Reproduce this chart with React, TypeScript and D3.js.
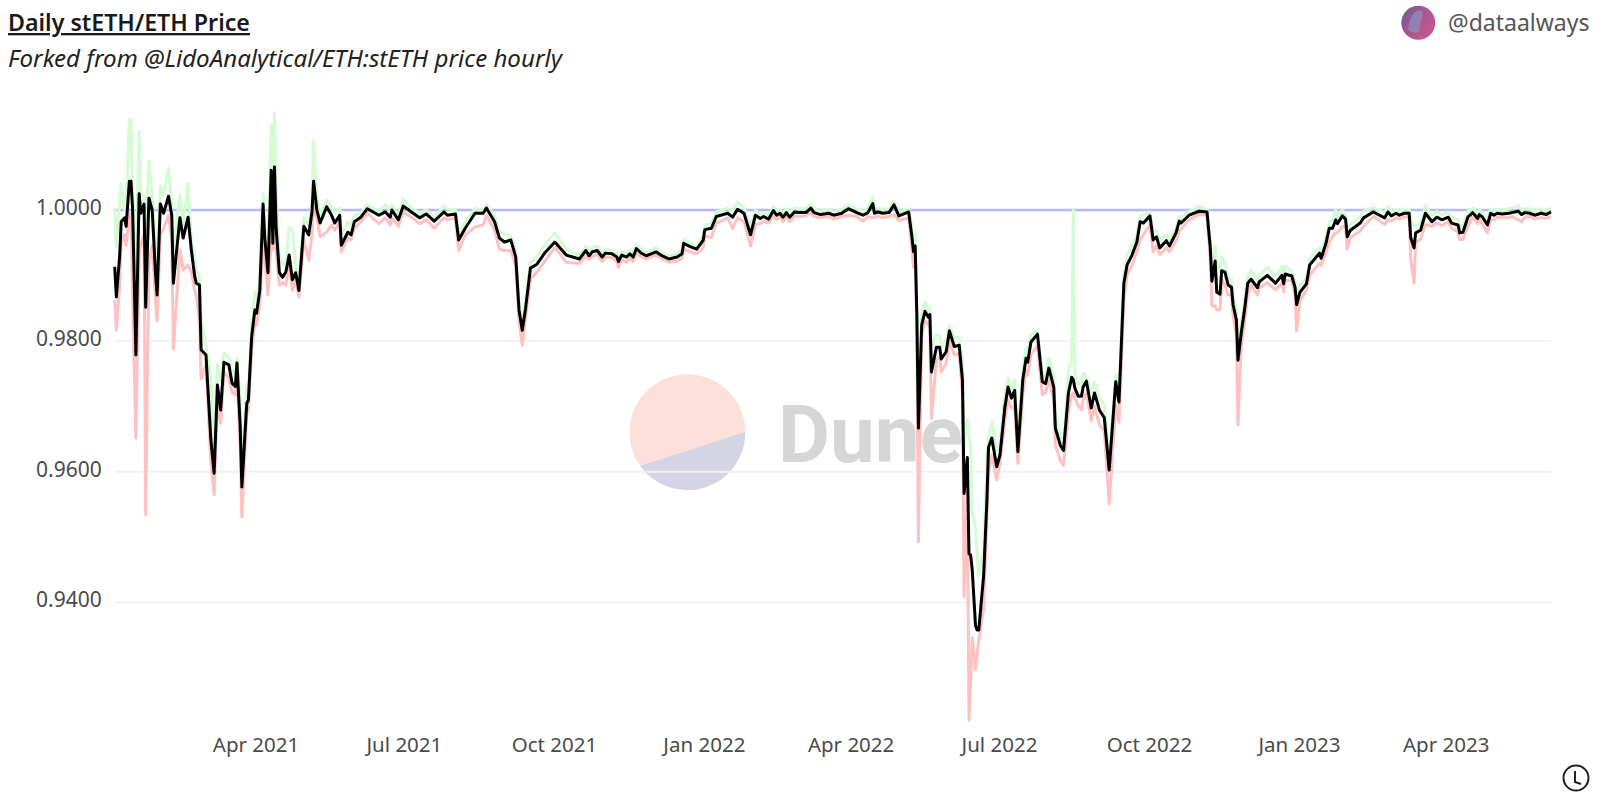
import React, { useRef, useEffect } from 'react';
import * as d3 from 'd3';

const WIDTH = 1600;
const HEIGHT = 811;

const startDate = new Date(Date.UTC(2021, 0, 4));
const xTicks = ['2021-04-01', '2021-07-01', '2021-10-01', '2022-01-01', '2022-04-01', '2022-07-01', '2022-10-01', '2023-01-01', '2023-04-01'];
const yTicks = [0.94, 0.96, 0.98, 1];
const pegValue = 1;
const lastDay = 881;

// days since startDate, same length as the three price arrays
const days = [
	0, 1, 3, 4, 6, 7, 9, 10, 11, 13,
	15, 16, 18, 19, 21, 23, 25, 26, 28, 30,
	33, 35, 36, 40, 42, 45, 47, 49, 50, 52,
	53, 56, 59, 61, 63, 65, 67, 70, 72, 74,
	75, 77, 78, 81, 82, 84, 86, 87, 89, 91,
	92, 94, 96, 97, 98, 99, 101, 103, 105, 107,
	109, 111, 113, 116, 119, 121, 122, 124, 126, 130,
	133, 135, 138, 139, 143, 145, 147, 151, 155, 162,
	166, 169, 170, 174, 177, 182, 187, 191, 196, 202,
	204, 209, 211, 215, 221, 226, 228, 233, 236, 239,
	243, 246, 248, 250, 252, 255, 259, 264, 270, 277,
	285, 289, 291, 293, 296, 299, 301, 305, 308, 309, 311, 314, 316, 318, 320, 323,
	326, 329, 332, 335, 340, 345, 348, 349, 353, 357, 361, 362, 366, 369, 376,
	379, 382, 386, 390, 393, 396, 398, 401, 404, 406, 408, 410, 412, 414, 417, 420, 424,
	427, 429, 433, 438, 441, 446, 450, 455, 459, 462, 465, 466, 468, 471, 475, 478, 481,
	487, 489, 490, 491, 492, 493, 495, 497, 499, 500,
	501, 504, 506, 507, 510, 512, 515, 518, 520, 521,
	523, 524, 525, 526, 528, 529, 530, 533, 535, 536,
	538, 541, 543, 546, 548, 550, 552, 554, 557, 559,
	560, 562, 566, 569, 571, 573, 576, 577, 580, 582,
	585, 587, 588, 589, 591, 593, 594, 596, 599, 601,
	604, 607, 610, 614, 616, 619, 621, 624, 627, 629,
	631, 635, 637, 639, 641, 645, 647, 651, 653, 654,
	659, 665, 670, 672, 673, 675, 676, 678, 679, 681,
	683, 685, 686, 688, 689, 691, 693, 695, 697, 701,
	702, 707, 712, 716, 717, 718, 722, 724, 725, 727,
	731, 733, 736, 739, 740, 743, 745, 747, 749, 750,
	753, 755, 756, 758, 764, 766, 772, 779, 781, 783, 786, 788, 791,
	794, 795, 797, 798, 801, 804, 808, 811, 814, 818,
	820, 824, 825, 827,
	830, 833, 836, 837, 839, 842, 844, 846, 848, 851,
	855, 857, 861, 863, 865, 868, 871, 875, 878, 881,
];

const avgPrice = [
	.9913, .9867, .9928, .9982, .9988, .9975, 1.0044, 1.0044, 1.0000, .9778,
	1.0025, .9995, 1.0009, .9851, 1.0018, 1.0000, .9904, .9870, 1.0009, .9995,
	1.0021, .9992, .9888, .9988, .9957, .9989, .9939, .9900, .9888, .9885,
	.9786, .9778, .9648, .9597, .9732, .9694, .9767, .9763, .9735, .9730,
	.9766, .9668, .9576, .9704, .9709, .9806, .9847, .9842, .9877, 1.0009,
	.9959, .9904, 1.0061, .9949, 1.0066, .9974, .9904, .9897, .9905, .9931,
	.9893, .9904, .9877, .9975, .9962, .9997, 1.0044, 1.0000, .9980, 1.0005,
	.9992, .9980, .9992, .9946, .9966, .9962, .9982, .9989, 1.0002, .9992,
	.9997, .9989, 1.0000, .9985, 1.0006, .9997, .9988, .9994, .9983, .9997,
	.9992, .9994, .9954, .9972, .9995, .9995, 1.0003, .9982, .9957, .9951,
	.9954, .9928, .9847, .9816, .9849, .9911, .9917, .9935, .9951, .9931,
	.9925, .9938, .9930, .9936, .9938, .9928, .9934, .9933, .9928, .9921, .9931, .9928, .9933, .9928, .9941, .9934,
	.9930, .9933, .9936, .9931, .9925, .9928, .9933, .9949, .9944, .9940, .9954, .9970, .9972, .9990, .9995,
	.9989, 1.0001, .9995, .9962, .9992, .9987, .9990, .9986, .9999, .9992, .9995, .9989, .9996, .9989, .9997, .9996, .9996,
	1.0003, .9996, .9993, .9995, .9992, .9995, 1.0002, .9996, .9992, .9996, 1.0010, .9995, .9997, .9995, .9996, 1.0008, .9991,
	.9997, .9959, .9936, .9945, .9842, .9666, .9824, .9845, .9836, .9840,
	.9752, .9790, .9790, .9772, .9783, .9815, .9791, .9793, .9740, .9566,
	.9621, .9474, .9472, .9449, .9364, .9357, .9357, .9441, .9556, .9637,
	.9651, .9607, .9625, .9698, .9729, .9712, .9724, .9630, .9740, .9773,
	.9767, .9798, .9810, .9737, .9734, .9758, .9729, .9666, .9640, .9632,
	.9720, .9744, .9740, .9727, .9715, .9715, .9729, .9738, .9697, .9720,
	.9694, .9682, .9602, .9737, .9706, .9888, .9916, .9931, .9951, .9982,
	.9980, .9991, .9954, .9959, .9942, .9953, .9945, .9965, .9983, .9980,
	.9992, .9998, .9997, .9943, .9891, .9922, .9874, .9871, .9907, .9905,
	.9885, .9882, .9855, .9832, .9770, .9812, .9847, .9888, .9894, .9881,
	.9890, .9900, .9888, .9900, .9887, .9902, .9899, .9882, .9855, .9874,
	.9887, .9916, .9925, .9934, .9926, .9949, .9972, .9972, .9985, .9979,
	.9991, .9986, .9959, .9969, .9980, .9988, .9997, .9988, .9997, .9991, .9995, .9992, .9995,
	.9995, .9957, .9942, .9965, .9969, .9995, .9982, .9989, .9985, .9989,
	.9980, .9977, .9965, .9966,
	.9989, .9996, .9987, .9993, .9989, .9977, .9995, .9992, .9995, .9994,
	.9995, .9996, .9998, .9993, .9996, .9995, .9992, .9995, .9993, .9997,
];

const lowPrice = [
	.9862, .9816, .9883, .9949, .9962, .9946, .9995, .9995, .9862, .9651,
	.9939, .9946, .9962, .9533, .9923, .9946, .9862, .9830, .9962, .9972,
	.9992, .9954, .9787, .9939, .9908, .9916, .9905, .9877, .9870, .9832,
	.9741, .9763, .9613, .9564, .9709, .9674, .9752, .9743, .9721, .9717,
	.9752, .9632, .9530, .9686, .9694, .9786, .9829, .9824, .9855, .9954,
	.9931, .9870, .9954, .9939, .9962, .9939, .9885, .9889, .9885, .9916,
	.9877, .9893, .9867, .9954, .9923, .9962, 1.0008, .9988, .9959, .9966,
	.9977, .9969, .9982, .9936, .9957, .9954, .9972, .9982, .9995, .9979,
	.9988, .9977, .9988, .9975, .9997, .9989, .9979, .9985, .9972, .9988,
	.9985, .9988, .9938, .9962, .9974, .9977, .9992, .9969, .9940, .9938,
	.9938, .9915, .9832, .9793, .9835, .9895, .9905, .9922, .9943, .9920,
	.9918, .9930, .9924, .9929, .9932, .9921, .9928, .9927, .9921, .9912, .9924, .9920, .9927, .9921, .9933, .9928,
	.9925, .9928, .9931, .9926, .9920, .9922, .9926, .9940, .9936, .9933, .9942, .9960, .9958, .9980, .9988,
	.9972, .9988, .9982, .9945, .9978, .9979, .9983, .9980, .9990, .9985, .9990, .9982, .9990, .9982, .9990, .9990, .9991,
	.9996, .9990, .9988, .9990, .9986, .9990, .9992, .9990, .9983, .9990, .9988, .9988, .9991, .9988, .9990, .9993, .9984,
	.9988, .9942, .9912, .9920, .9820, .9492, .9810, .9830, .9825, .9825,
	.9681, .9770, .9775, .9752, .9765, .9800, .9778, .9780, .9718, .9408,
	.9570, .9219, .9280, .9345, .9296, .9320, .9340, .9392, .9530, .9600,
	.9625, .9587, .9612, .9678, .9709, .9697, .9701, .9612, .9717, .9755,
	.9747, .9778, .9793, .9717, .9721, .9740, .9709, .9640, .9617, .9609,
	.9691, .9717, .9720, .9712, .9701, .9694, .9710, .9720, .9678, .9700,
	.9671, .9663, .9550, .9701, .9675, .9862, .9900, .9916, .9936, .9954,
	.9962, .9977, .9936, .9946, .9931, .9942, .9936, .9953, .9968, .9970,
	.9985, .9993, .9992, .9925, .9853, .9853, .9847, .9847, .9893, .9885,
	.9870, .9870, .9839, .9809, .9671, .9793, .9828, .9870, .9885, .9870,
	.9880, .9889, .9878, .9888, .9875, .9892, .9892, .9870, .9815, .9860,
	.9878, .9900, .9910, .9918, .9915, .9935, .9950, .9960, .9965, .9965,
	.9975, .9975, .9940, .9958, .9968, .9975, .9990, .9978, .9985, .9983, .9988, .9986, .9989,
	.9990, .9923, .9888, .9950, .9955, .9978, .9975, .9980, .9976, .9982,
	.9972, .9966, .9955, .9955,
	.9975, .9990, .9979, .9986, .9978, .9965, .9985, .9985, .9989, .9988,
	.9988, .9990, .9985, .9982, .9989, .9990, .9986, .9988, .9987, .9990,
];

const highPrice = [
	1.0003, .9944, 1.0015, 1.0041, 1.0000, 1.0008, 1.0138, 1.0138, 1.0031, .9908,
	1.0121, 1.0023, 1.0021, .9969, 1.0075, 1.0023, .9954, .9911, 1.0037, 1.0023,
	1.0064, 1.0008, .9939, 1.0023, .9977, 1.0041, .9954, .9931, .9908, .9900,
	.9832, .9793, .9745, .9632, .9763, .9740, .9781, .9774, .9755, .9747,
	.9774, .9709, .9609, .9732, .9724, .9824, .9874, .9862, .9893, 1.0026,
	.9977, .9931, 1.0129, 1.0015, 1.0149, 1.0031, .9931, .9916, .9920, .9974,
	.9969, .9916, .9889, .9988, .9977, 1.0008, 1.0106, 1.0023, .9992, 1.0015,
	1.0003, .9997, 1.0003, .9962, .9982, .9977, .9992, .9995, 1.0008, .9998,
	1.0008, .9997, 1.0008, .9992, 1.0017, 1.0003, .9995, 1.0000, .9989, 1.0006,
	1.0002, 1.0000, .9962, .9982, 1.0002, 1.0000, 1.0008, .9991, .9966, .9963,
	.9960, .9938, .9860, .9826, .9860, .9920, .9928, .9948, .9965, .9940,
	.9930, .9945, .9936, .9943, .9945, .9933, .9940, .9938, .9933, .9927, .9936, .9934, .9939, .9934, .9947, .9941,
	.9935, .9938, .9943, .9936, .9930, .9933, .9939, .9955, .9950, .9945, .9961, .9977, .9979, .9997, 1.0003,
	.9998, 1.0012, 1.0003, .9975, 1.0000, .9993, .9996, .9992, 1.0005, .9998, 1.0001, .9996, 1.0002, .9996, 1.0003, 1.0002, 1.0002,
	1.0009, 1.0002, .9998, 1.0001, .9998, 1.0001, 1.0008, 1.0002, .9998, 1.0002, 1.0021, 1.0002, 1.0003, 1.0001, 1.0002, 1.0014, .9997,
	1.0002, .9975, .9950, .9965, .9860, .9720, .9842, .9860, .9850, .9850,
	.9790, .9809, .9808, .9790, .9800, .9824, .9805, .9805, .9770, .9640,
	.9680, .9655, .9640, .9540, .9510, .9470, .9440, .9480, .9620, .9650,
	.9676, .9632, .9640, .9717, .9743, .9727, .9740, .9648, .9755, .9789,
	.9783, .9809, .9816, .9747, .9743, .9773, .9747, .9686, .9655, .9640,
	.9755, .9770, 1.0000, .9750, .9732, .9737, .9750, .9747, .9721, .9737,
	.9712, .9701, .9614, .9747, .9717, .9900, .9931, .9946, .9962, .9992,
	.9992, .9997, .9966, .9969, .9954, .9962, .9953, .9973, .9990, .9988,
	.9998, 1.0005, 1.0001, .9955, .9916, .9945, .9920, .9908, .9927, .9920,
	.9896, .9893, .9870, .9847, .9793, .9828, .9862, .9900, .9908, .9893,
	.9900, .9912, .9897, .9914, .9897, .9914, .9906, .9890, .9870, .9885,
	.9895, .9925, .9936, .9942, .9935, .9960, .9982, .9985, 1.0000, .9990,
	1.0000, .9992, .9970, .9978, .9990, .9998, 1.0004, .9996, 1.0006, .9997, 1.0001, .9998, 1.0001,
	1.0002, .9985, .9975, .9975, .9980, 1.0008, .9990, .9998, .9992, .9997,
	.9988, .9985, .9972, .9975,
	.9998, 1.0003, .9994, 1.0000, .9996, .9985, 1.0002, .9998, 1.0001, 1.0000,
	1.0002, 1.0003, 1.0006, 1.0000, 1.0002, 1.0002, .9998, 1.0002, .9999, 1.0003,
];

const dayToDate = (d: number) => d3.utcDay.offset(startDate, d);

const App: React.FC = () => {
	const chartRef = useRef<SVGGElement | null>(null);

	useEffect(() => {
		if (!chartRef.current) return;
		const g = d3.select(chartRef.current);

		const x = d3.scaleUtc()
			.domain([startDate, dayToDate(lastDay)])
			.range([114.7, 1551]);
		const y = d3.scaleLinear().domain([0.94, 1]).range([602, 210]);

		// Gridlines and value labels
		g.append('g')
			.attr('transform', 'translate(114.7,0)')
			.call(d3.axisLeft(y).tickValues(yTicks).tickFormat(d3.format('.4f')).tickSize(0).tickPadding(13))
			.attr('font-size', '21px')
			.attr('font-family', '"Noto Sans", sans-serif')
			.call(a => a.select('.domain').remove())
			.call(a => a.selectAll('.tick text').attr('fill', '#4a4a4a').attr('y', -2))
			.call(a => a.selectAll('.tick line').clone()
				.attr('x2', x.range()[1] - x.range()[0])
				.attr('stroke', '#f1f1f1')
				.attr('stroke-width', 2));

		g.append('g')
			.attr('transform', 'translate(-1,737)')
			.call(d3.axisBottom(x)
				.tickValues(xTicks.map(d => new Date(d)))
				.tickFormat(d3.utcFormat('%b %Y') as any)
				.tickSize(0)
				.tickPadding(0))
			.attr('font-size', '20.5px')
			.attr('font-family', '"Noto Sans", sans-serif')
			.call(a => a.select('.domain').remove())
			.call(a => a.selectAll('.tick text').attr('fill', '#4a4a4a'));

		const line = d3.line<number>()
			.x((_, i) => x(dayToDate(days[i])))
			.y(d => y(d));

		const drawSeries = (values: number[], color: string, width: number) => {
			g.append('path')
				.attr('fill', 'none')
				.attr('stroke', color)
				.attr('stroke-width', width)
				.attr('stroke-linejoin', 'round')
				.attr('d', line(values));
		};

		drawSeries(days.map(() => pegValue), '#b9b9f6', 2.6);
		drawSeries(lowPrice, '#ffc0c0', 3);
		drawSeries(highPrice, '#d3fcd3', 3);
		drawSeries(avgPrice, '#000000', 3);

		return () => { g.selectAll('*').remove(); };
	}, []);

	return (
		<svg width={WIDTH} height={HEIGHT} viewBox={`0 0 ${WIDTH} ${HEIGHT}`}
			style={{ position: 'absolute', left: 0, top: 0, background: '#fff' }}
			fontFamily='"Noto Sans", sans-serif'>
			<defs>
				<linearGradient id="avatar" x1="0" y1="0" x2="1" y2="0.6">
					<stop offset="0" stopColor="#5f5f9c" />
					<stop offset="0.5" stopColor="#a8558f" />
					<stop offset="1" stopColor="#c4598a" />
				</linearGradient>
			</defs>

			{/* Dune watermark */}
			<path d="M640 465.7 A58 58 0 1 1 745.4 431.7 Z" fill="#fde0da" />
			<path d="M640 465.7 A58 58 0 0 0 745.4 431.7 Z" fill="#d4d4e4" />
			<text x="778" y="461.5" fontSize="80" fontWeight="700" fill="#d6d6d6" fontFamily="Roboto, sans-serif">Dune</text>

			<g ref={chartRef} />

			<text x="8" y="31" fontSize="23.2" fontWeight="600" fill="#1a1a1a" textDecoration="underline">Daily stETH/ETH Price</text>
			<text x="8" y="67" fontSize="24.1" fontStyle="italic" fill="#222">Forked from @LidoAnalytical/ETH:stETH price hourly</text>

			<circle cx="1418.3" cy="22.7" r="17" fill="url(#avatar)" />
			<path d="M1408 30 Q1410 12 1420 10 Q1425 13 1421 20 L1419 32 Q1413 34 1408 30 Z" fill="#8b8fc0" opacity="0.75" />
			<text x="1448" y="31" fontSize="23" fill="#555">@dataalways</text>

			{/* clock */}
			<circle cx="1576" cy="778" r="12.5" fill="none" stroke="#222" strokeWidth="2" />
			<path d="M1575 771 V782 L1581 784" fill="none" stroke="#222" strokeWidth="2" />
		</svg>
	);
};

export default App;
